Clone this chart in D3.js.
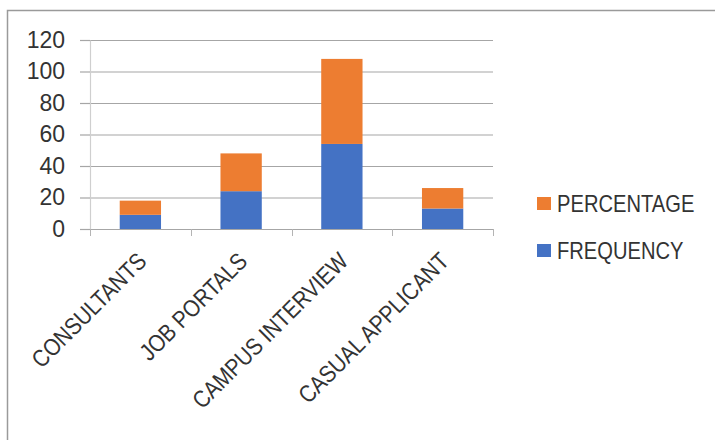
<!DOCTYPE html>
<html>
<head>
<meta charset="utf-8">
<script src="https://cdn.jsdelivr.net/npm/d3@7"></script>
<style>
  html, body { margin: 0; padding: 0; background: #ffffff; }
  svg { display: block; }
  text { font-family: "Liberation Sans", Arial, sans-serif; fill: #333333; }
</style>
</head>
<body>
<svg id="chart" width="715" height="440"></svg>
<script>
// Recruitment sources: frequency and percentage, stacked
const categories = ["CONSULTANTS", "JOB PORTALS", "CAMPUS INTERVIEW", "CASUAL APPLICANT"];
const frequency  = [9, 24, 54, 13];
const percentage = [9, 24, 54, 13];
const yTicks     = [0, 20, 40, 60, 80, 100, 120];
const seriesNames  = ["FREQUENCY", "PERCENTAGE"];
const seriesColors = ["#4472C4", "#ED7D31"];

const svg = d3.select("#chart");
const W = 715, H = 440;

// Plot area
const plot = { left: 90, right: 493, top: 40, bottom: 229 };

// Outer frame (top and left edges visible)
svg.append("path")
  .attr("d", `M7.5,${H} L7.5,10.5 L${W},10.5`)
  .attr("fill", "none")
  .attr("stroke", "#9a9a9a")
  .attr("stroke-width", 1.5);

const x = d3.scaleBand()
  .domain(categories)
  .range([plot.left, plot.right])
  .paddingInner(0.59)
  .paddingOuter(0.295);

const y = d3.scaleLinear()
  .domain([0, 120])
  .range([plot.bottom, plot.top]);

// Gridlines
svg.append("g")
  .attr("transform", `translate(${plot.left},0)`)
  .call(d3.axisLeft(y).tickValues(yTicks).tickSize(-(plot.right - plot.left)).tickFormat(""))
  .call(g => g.select(".domain").remove())
  .call(g => g.selectAll("line").attr("stroke", "#a6a6a6").attr("stroke-width", 1.2));

// Value axis: short outside ticks and labels
const yAxis = svg.append("g")
  .attr("transform", `translate(${plot.left},0)`)
  .call(d3.axisLeft(y).tickValues(yTicks).tickSizeInner(10).tickSizeOuter(0).tickPadding(15).tickFormat(d3.format("d")));
yAxis.select(".domain").attr("stroke", "#cfcfcf").attr("stroke-width", 1.2);
yAxis.selectAll("line").attr("stroke", "#a6a6a6").attr("stroke-width", 1.2);
yAxis.selectAll("text")
  .style("font-size", "23px")
  .style("fill", "#333333");

// Stacked bars
const rows = categories.map((c, i) => ({ category: c, FREQUENCY: frequency[i], PERCENTAGE: percentage[i] }));
const stack = d3.stack().keys(seriesNames)(rows);

svg.append("g")
  .selectAll("g")
  .data(stack)
  .join("g")
  .attr("fill", (d, i) => seriesColors[i])
  .selectAll("rect")
  .data(d => d)
  .join("rect")
  .attr("x", d => x(d.data.category))
  .attr("width", x.bandwidth())
  .attr("y", d => y(d[1]))
  .attr("height", d => y(d[0]) - y(d[1]));

// Category axis line and boundary ticks
const step = x.step();
const bounds = categories.map(c => x(c) - x.paddingInner() * step / 2).concat([plot.right]);
const xg = svg.append("g");
xg.append("line")
  .attr("x1", plot.left - 10).attr("x2", plot.right)
  .attr("y1", plot.bottom + 0.5).attr("y2", plot.bottom + 0.5)
  .attr("stroke", "#a6a6a6").attr("stroke-width", 1.2);
xg.selectAll("line.tick")
  .data(bounds)
  .join("line")
  .attr("class", "tick")
  .attr("x1", d => Math.round(d) + 0.5).attr("x2", d => Math.round(d) + 0.5)
  .attr("y1", plot.bottom).attr("y2", plot.bottom + 7)
  .attr("stroke", "#b4b4b4");

// Rotated category labels
xg.selectAll("text")
  .data(categories)
  .join("text")
  .attr("transform", d => `translate(${x(d) + x.bandwidth() / 2 + 2},257) rotate(-45) scale(0.86,1)`)
  .attr("text-anchor", "end")
  .attr("dominant-baseline", "central")
  .style("font-size", "24px")
  .text(d => d);

// Legend (percentage listed first)
const legendItems = [
  { name: "PERCENTAGE", color: seriesColors[1], cy: 204 },
  { name: "FREQUENCY",  color: seriesColors[0], cy: 251 }
];
const lg = svg.append("g");
lg.selectAll("rect")
  .data(legendItems)
  .join("rect")
  .attr("x", 537).attr("y", d => d.cy - 7)
  .attr("width", 14).attr("height", 13)
  .attr("fill", d => d.color);
lg.selectAll("text")
  .data(legendItems)
  .join("text")
  .attr("transform", d => `translate(557,${d.cy}) scale(0.84,1)`)
  .attr("dominant-baseline", "central")
  .style("font-size", "24px")
  .text(d => d.name);
</script>
</body>
</html>
